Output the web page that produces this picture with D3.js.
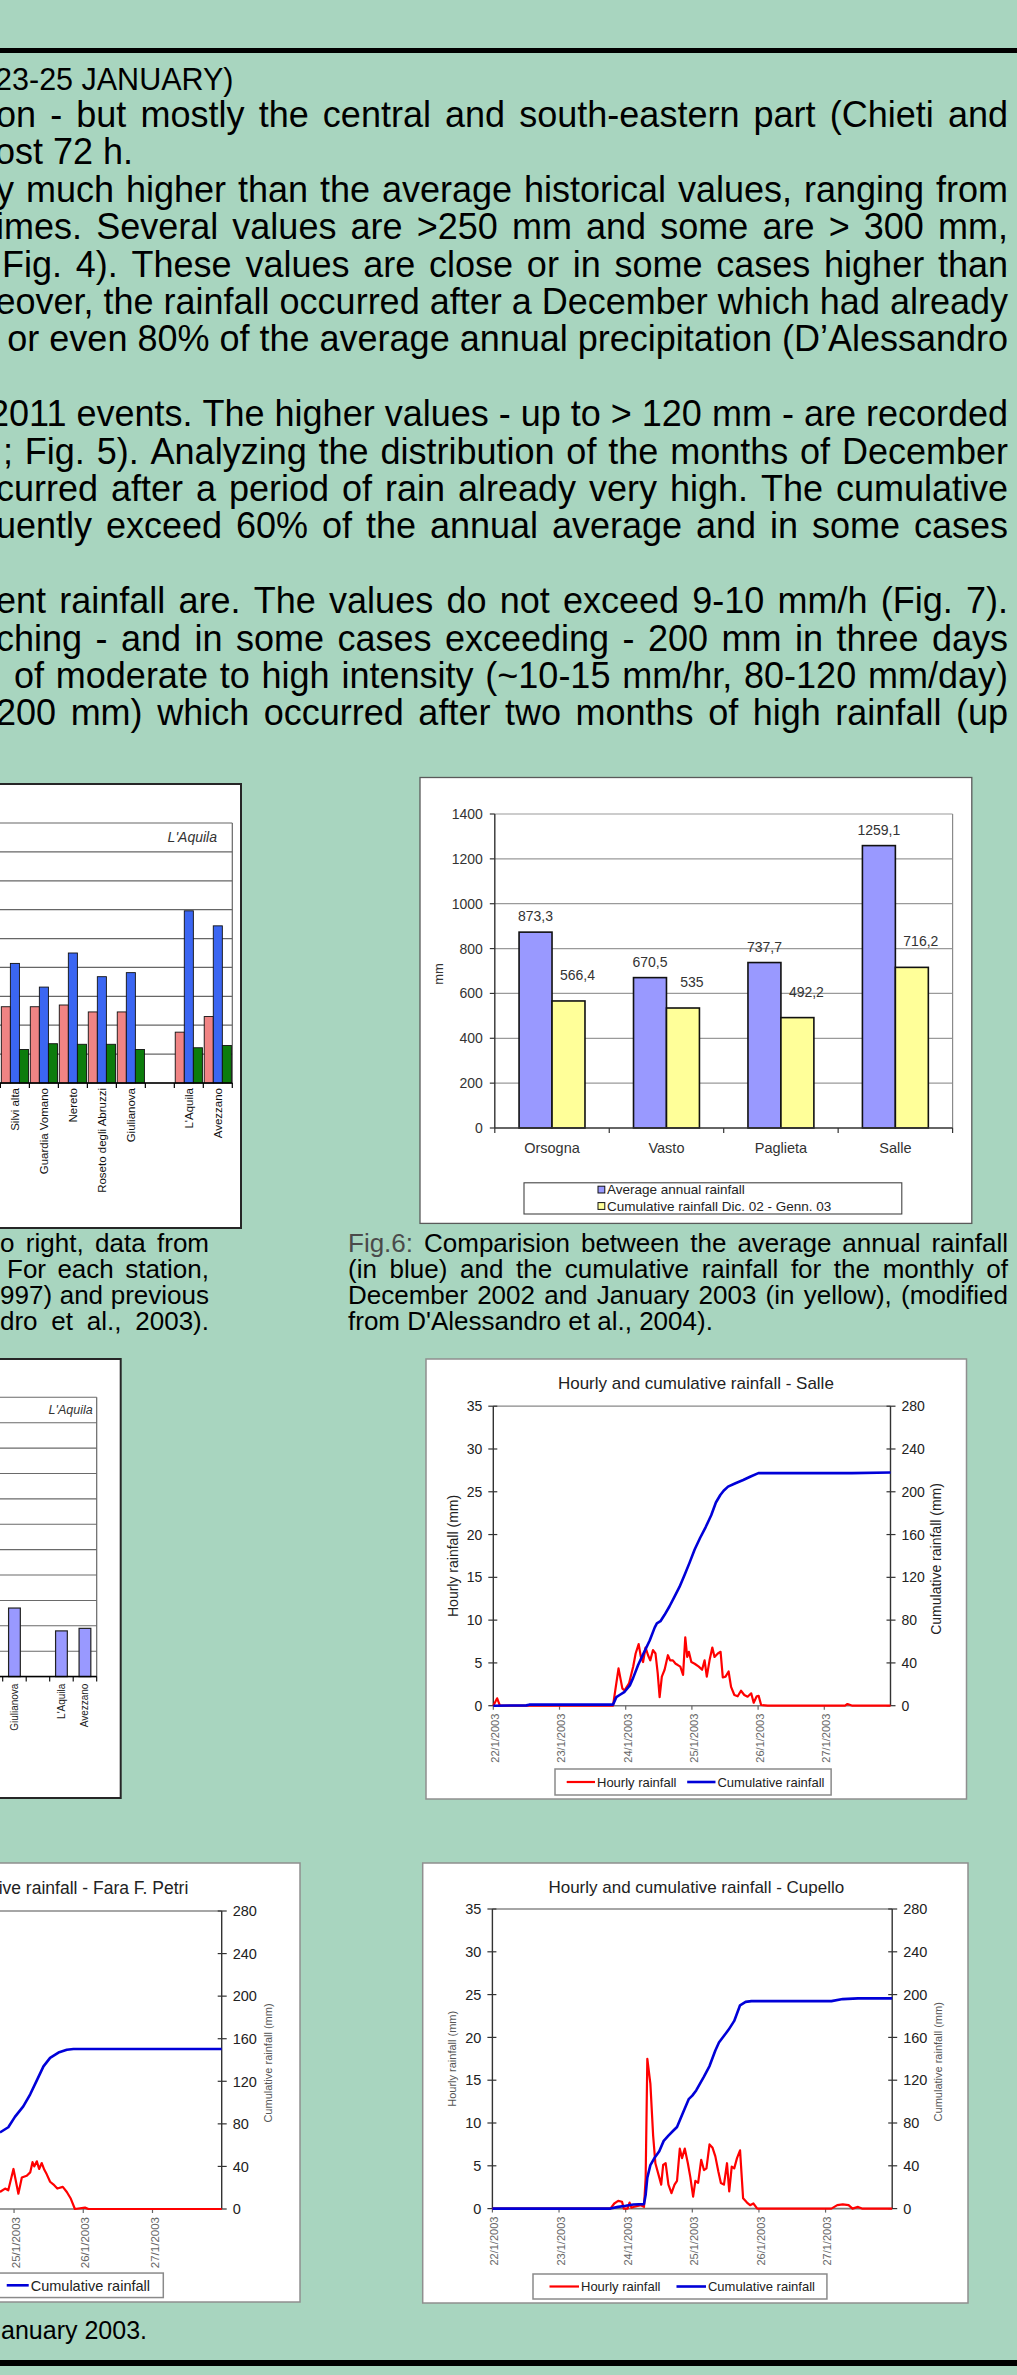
<!DOCTYPE html>
<html><head><meta charset="utf-8">
<script src="https://cdn.jsdelivr.net/npm/d3@7/dist/d3.min.js"></script>
<style>html,body{margin:0;padding:0;background:#a8d5bf;overflow:hidden}svg{display:block}</style>
</head><body>
<svg id="poster" width="1017" height="2375"></svg>
<script>
// ================= DATA =================
const bodyText = [
  "23-25 JANUARY)",
  "on - but mostly the central and south-eastern part (Chieti and",
  "ost 72 h.",
  "y much higher than the average historical values, ranging from",
  "imes. Several values are >250 mm and some are > 300 mm,",
  "Fig. 4). These values are close or in some cases higher than",
  "eover, the rainfall occurred after a December which had already",
  "% or even 80% of the average annual precipitation (D\u2019Alessandro",
  "",
  "2011 events. The higher values - up to > 120 mm - are recorded",
  "; Fig. 5). Analyzing the distribution of the months of December",
  "curred after a period of rain already very high. The cumulative",
  "uently exceed 60% of the annual average and in some cases",
  "",
  "ent rainfall are. The values do not exceed 9-10 mm/h (Fig. 7).",
  "ching - and in some cases exceeding - 200 mm in three days",
  "of moderate to high intensity (~10-15 mm/hr, 80-120 mm/day)",
  "200 mm) which occurred after two months of high rainfall (up"
];
const fig4CaptionText = ["o right, data from", "For each station,", "997) and previous", "dro et al., 2003)."];
const fig6CaptionText = [
  "Fig.6: Comparision between the average annual rainfall",
  "(in blue) and the cumulative rainfall for the monthly of",
  "December 2002 and January 2003 (in yellow), (modified",
  "from D'Alessandro et al., 2004)."
];
const fig7CaptionText = ["January 2003."];

// Fig 4 (partial view): stations, three series (mm)
const fig4Stations = ["Silvi alta", "Guardia Vomano", "Nereto", "Roseto degli Abruzzi", "Giulianova", " ", "L'Aquila", "Avezzano"];
const fig4AvgJanuary = [132, 132, 135, 123, 123, null, 88, 115];
const fig4January2003 = [207, 166, 225, 184, 191, null, 298, 272];
const fig4ThirdSeries = [58, 68, 67, 67, 58, null, 61, 65];
const fig4Ticks = [0, 50, 100, 150, 200, 250, 300, 350, 400, 450];
const fig4AreaLabel = "L'Aquila";

// Fig 5 (partial view)
const fig5Stations = ["Giulianova", " ", "L'Aquila", "Avezzano"];
const fig5Values = [54, null, 36, 38];
const fig5Ticks = [0, 20, 40, 60, 80, 100, 120, 140, 160, 180, 200, 220];
const fig5AreaLabel = "L'Aquila";

// Fig 6
const fig6Stations = ["Orsogna", "Vasto", "Paglieta", "Salle"];
const fig6Average = [873.3, 670.5, 737.7, 1259.1];
const fig6Cumulative = [566.4, 535, 492.2, 716.2];
const fig6Ticks = [0, 200, 400, 600, 800, 1000, 1200, 1400];
const fig6LegendLabels = ["Average annual rainfall", "Cumulative rainfall Dic. 02 - Genn. 03"];

// Fig 7: hourly / cumulative rainfall, x = hours since 22/1/2003 00:00
const hourlyTicks = [0, 5, 10, 15, 20, 25, 30, 35];
const cumulativeTicks = [0, 40, 80, 120, 160, 200, 240, 280];
const dateTickLabels = ["22/1/2003", "23/1/2003", "24/1/2003", "25/1/2003", "26/1/2003", "27/1/2003"];
const legendLabels = ["Hourly rainfall", "Cumulative rainfall"];

const salleHourly = [[0,0],[1.4,0.86],[2.4,0],[43.4,0],[45.4,4.36],[46.8,2.0],[47.6,1.8],[49.2,2.6],[50.7,4.56],[51.6,6.1],[52.7,7.2],[53.5,5.7],[54.3,5.1],[55.2,6.8],[56.1,5.9],[56.9,5.3],[57.9,6.5],[58.8,6.1],[59.6,3.8],[60.3,1.0],[61.1,3.4],[62.1,4.2],[63.3,5.9],[64.1,5.3],[65.1,5.3],[66.1,4.9],[66.9,4.75],[67.8,4.56],[68.8,3.6],[69.6,8.0],[70.3,5.7],[70.9,6.3],[71.8,5.1],[73.0,4.9],[74.5,4.56],[75.7,4.2],[76.6,5.3],[77.4,3.4],[78.4,5.3],[79.4,6.8],[80.2,5.7],[81.4,6.1],[82.4,6.3],[83.2,3.3],[84.2,3.4],[85.3,4.0],[86.2,2.2],[87.4,1.25],[88.6,1.1],[89.8,1.75],[91.0,1.25],[92.2,1.05],[93.5,1.45],[94.4,0.35],[95.5,1.1],[96.2,1.15],[97.1,0.08],[99.5,0],[127.5,0],[128.4,0.2],[130.2,0],[144,0]];
const salleCumulative = [[0,0],[12,0.3],[13,1],[43.4,1],[44.6,8],[45.8,10],[47.6,13],[49.5,19],[50.7,26],[52.5,38],[54.3,48],[56.7,61],[58.5,73],[59.3,77],[60.6,79],[62.1,85],[63.9,93],[65.7,102],[67.5,111],[69.3,122],[71.2,134],[73.0,146],[75.0,157],[77.0,167],[79.0,178],[80.7,190],[82.3,197],[83.5,201],[85.1,204.8],[87.8,208],[90.6,211],[93.3,214.3],[96.1,217.4],[130,217.4],[144,218]];

const cupelloHourly = [[0,0],[42.5,0],[43.9,0.6],[45.3,0.9],[46.7,0.8],[47.3,0],[48.7,0],[49.4,0.7],[50.1,0.1],[50.8,0.2],[53.5,0.4],[54.6,0.2],[55.2,3.6],[55.8,17.5],[56.9,14.6],[57.9,8.5],[58.7,5.3],[60.1,3.65],[60.8,2.8],[61.5,5.1],[62.4,5.3],[63.4,2.8],[64.5,1.8],[65.6,2.8],[66.5,3.25],[67.5,7.0],[68.3,5.9],[69.3,7.0],[70.4,5.3],[71.3,3.65],[72.3,1.4],[73.1,3.25],[74.1,3.0],[75.2,5.7],[76.2,4.5],[77.1,4.7],[78.2,7.5],[79.3,7.1],[80.3,6.1],[81.4,4.3],[82.3,3.0],[83.4,2.8],[84.5,5.3],[85.3,2.0],[86.2,4.9],[87.1,4.7],[88.1,5.9],[89.2,6.8],[90.3,1.2],[91.7,0.7],[92.8,0.4],[94.0,0.6],[95.4,0],[122.1,0],[124.2,0.4],[126.2,0.5],[128.3,0.4],[129.7,0],[131.7,0.2],[133.1,0],[144,0]];
const cupelloCumulative = [[0,0],[42.5,0],[45.3,1.6],[48.0,2.6],[50.8,3.9],[54.6,4.2],[55.2,13],[55.8,29],[56.9,40.6],[58.3,47],[60.1,53.6],[61.7,63.3],[63.4,68.2],[65.2,73],[66.5,76.3],[68.6,89.3],[70.7,102.3],[72.0,105.6],[73.4,110.4],[76.2,123.4],[78.2,133.2],[80.3,147.8],[81.6,155.2],[83.7,162.4],[85.1,167.3],[87.1,175.4],[89.2,190],[91.2,193.2],[93.3,193.9],[122.1,193.9],[126.2,195.8],[131.7,196.5],[144,196.5]];

const faraHourly = [[67.1,2.0],[68.9,2.4],[70.0,2.2],[71.8,4.7],[73.5,1.8],[74.7,3.7],[76.4,3.9],[77.6,4.3],[78.4,5.5],[79.0,5.0],[79.9,5.6],[80.7,4.7],[81.6,5.4],[82.5,4.6],[83.3,4.1],[84.5,3.2],[85.6,2.9],[87.0,2.4],[88.9,2.6],[90.3,2.0],[91.7,1.2],[93.1,0],[96.6,0.16],[97.8,0],[144,0]];
const faraCumulative = [[67.1,71.9],[70.0,76.8],[72.3,86.6],[75.2,96.4],[77.6,107.8],[79.9,120.9],[82.2,134],[84.5,142],[87.4,147],[90.3,149.6],[92.6,150.3],[144,150.3]];

// ================= DRAWING =================
const W = 1017, H = 2375;
const FONT = "'Liberation Sans', Arial, Helvetica, sans-serif";
const svg = d3.select("#poster").attr("font-family", FONT);

svg.append("rect").attr("width", W).attr("height", H).attr("fill", "#a8d5bf");
svg.append("rect").attr("x", 0).attr("y", 48).attr("width", W).attr("height", 5).attr("fill", "#000");
svg.append("rect").attr("x", 0).attr("y", 2360).attr("width", W).attr("height", 6).attr("fill", "#000");

const measurer = svg.append("text").attr("visibility", "hidden");
function tw(str, size) {
  measurer.attr("font-size", size).text(str);
  return measurer.node().getComputedTextLength();
}
function textLine(parent, str, o) {
  const words = str.split(" ").filter(w => w.length);
  const size = o.size;
  const widths = words.map(w => tw(w, size));
  const sp = tw("a a", size) - tw("aa", size);
  const sumW = d3.sum(widths);
  const natural = sumW + sp * (words.length - 1);
  let start, gap = sp;
  if (o.mode === "j" && words.length > 1) {
    if (natural > o.x1 - o.x0) start = o.x1 - natural;
    else { start = o.x0; gap = (o.x1 - o.x0 - sumW) / (words.length - 1); }
  } else if (o.mode === "end") start = o.x1 - natural;
  else start = o.x0;
  const t = parent.append("text").attr("y", o.y).attr("font-size", size).attr("fill", o.fill || "#000");
  let x = start;
  words.forEach((w, i) => {
    const ts = t.append("tspan").attr("x", x).text(w + (i < words.length - 1 ? " " : ""));
    if (i === 0 && o.firstFill) ts.attr("fill", o.firstFill);
    x += widths[i] + gap;
  });
}

// ---- body text ----
const bodyLayout = [
  {mode: "end", x1: 233.5, size: 30.5},
  {mode: "j", x0: -4}, {mode: "end", x1: 133}, {mode: "j", x0: -4}, {mode: "j", x0: -4},
  {mode: "j", x0: 2}, {mode: "j", x0: -4}, {mode: "j", x0: -4}, null,
  {mode: "j", x0: -4}, {mode: "j", x0: 3}, {mode: "j", x0: -4}, {mode: "j", x0: -4}, null,
  {mode: "j", x0: -4}, {mode: "j", x0: -4}, {mode: "j", x0: 14}, {mode: "j", x0: -4}
];
const bodyG = svg.append("g");
bodyText.forEach((s, i) => {
  const L = bodyLayout[i];
  if (!L || !s) return;
  textLine(bodyG, s, {mode: L.mode, x0: L.x0, x1: L.x1 || 1008, y: 89.5 + 37.4 * i, size: L.size || 36});
});

// ---- Fig 4 (partial) ----
(function () {
  const g = svg.append("g");
  g.append("rect").attr("x", -10).attr("y", 784).attr("width", 251).attr("height", 444)
    .attr("fill", "#fff").attr("stroke", "#262626").attr("stroke-width", 2);
  const f = {l: -10, r: 232.3, t: 823, b: 1083};
  const y = d3.scaleLinear().domain([0, d3.max(fig4Ticks)]).range([f.b, f.t]);
  const x = d3.scaleBand().domain(fig4Stations).range([0.4, f.r]);
  const s = d3.scaleBand().domain(["avg", "jan", "third"]).range([0, x.bandwidth()]).paddingOuter(0.1);
  fig4Ticks.forEach(v => g.append("line").attr("x1", f.l).attr("x2", f.r).attr("y1", y(v)).attr("y2", y(v))
    .attr("stroke", "#666").attr("stroke-width", 1.2));
  g.append("line").attr("x1", f.r).attr("x2", f.r).attr("y1", f.t).attr("y2", f.b).attr("stroke", "#666").attr("stroke-width", 1.2);
  const series = [[fig4AvgJanuary, "#f08484", "avg"], [fig4January2003, "#3b66f2", "jan"], [fig4ThirdSeries, "#0c7c0c", "third"]];
  series.forEach(([vals, col, key]) => {
    fig4Stations.forEach((st, i) => {
      const v = vals[i];
      if (v == null) return;
      g.append("rect").attr("x", x(st) + s(key)).attr("y", y(v)).attr("width", s.bandwidth()).attr("height", f.b - y(v))
        .attr("fill", col).attr("stroke", "#111").attr("stroke-width", 0.9);
    });
  });
  g.append("line").attr("x1", f.l).attr("x2", f.r).attr("y1", f.b).attr("y2", f.b).attr("stroke", "#000").attr("stroke-width", 1.6);
  d3.range(fig4Stations.length + 1).forEach(i => {
    const xx = x.range()[0] + i * x.step();
    g.append("line").attr("x1", xx).attr("x2", xx).attr("y1", f.b).attr("y2", f.b + 5).attr("stroke", "#000").attr("stroke-width", 1.2);
  });
  fig4Stations.forEach((st, i) => {
    if (fig4January2003[i] == null) return;
    g.append("text").attr("transform", `translate(${x(st) + x.bandwidth() / 2},${f.b + 5}) rotate(-90)`)
      .attr("dy", "0.35em").attr("text-anchor", "end").attr("font-size", 11.5).attr("fill", "#111").text(st);
  });
  g.append("text").attr("x", 217).attr("y", 842).attr("text-anchor", "end").attr("font-style", "italic")
    .attr("font-size", 14).attr("fill", "#333").text(fig4AreaLabel);
})();

// ---- Fig 4 caption ----
const capG = svg.append("g");
fig4CaptionText.forEach((s, i) => {
  textLine(capG, s, {mode: "j", x0: i === 1 ? 7 : 0, x1: 209, y: 1251.5 + 26.2 * i, size: 26});
});

// ---- Fig 6 ----
(function () {
  const g = svg.append("g");
  g.append("rect").attr("x", 420).attr("y", 777.5).attr("width", 551.8).attr("height", 445.9)
    .attr("fill", "#fff").attr("stroke", "#5a5a5a").attr("stroke-width", 1.3);
  const f = {l: 494.8, r: 952.6, t: 814, b: 1128};
  const y = d3.scaleLinear().domain([0, d3.max(fig6Ticks)]).range([f.b, f.t]);
  const x = d3.scaleBand().domain(fig6Stations).range([f.l, f.r]).paddingInner(0.424).paddingOuter(0.212);
  const s = d3.scaleBand().domain(["avg", "cum"]).range([0, x.bandwidth()]);
  fig6Ticks.forEach(v => {
    if (v > 0) g.append("line").attr("x1", f.l).attr("x2", f.r).attr("y1", y(v)).attr("y2", y(v)).attr("stroke", "#9a9a9a").attr("stroke-width", 1.2);
    g.append("line").attr("x1", f.l - 5).attr("x2", f.l).attr("y1", y(v)).attr("y2", y(v)).attr("stroke", "#333").attr("stroke-width", 1.2);
    g.append("text").attr("x", f.l - 12).attr("y", y(v)).attr("dy", "0.36em").attr("text-anchor", "end")
      .attr("font-size", 14).attr("fill", "#333").text(v);
  });
  g.append("line").attr("x1", f.r).attr("x2", f.r).attr("y1", f.t).attr("y2", f.b).attr("stroke", "#8a8a8a").attr("stroke-width", 1.2);
  g.append("line").attr("x1", f.l).attr("x2", f.l).attr("y1", f.t).attr("y2", f.b).attr("stroke", "#333").attr("stroke-width", 1.4);
  const fmt = v => String(v).replace(".", ",");
  fig6Stations.forEach((st, i) => {
    const xa = x(st) + s("avg"), xc = x(st) + s("cum"), bw = s.bandwidth();
    g.append("rect").attr("x", xa).attr("y", y(fig6Average[i])).attr("width", bw).attr("height", f.b - y(fig6Average[i]))
      .attr("fill", "#9999ff").attr("stroke", "#111").attr("stroke-width", 1.6);
    g.append("rect").attr("x", xc).attr("y", y(fig6Cumulative[i])).attr("width", bw).attr("height", f.b - y(fig6Cumulative[i]))
      .attr("fill", "#ffff99").attr("stroke", "#111").attr("stroke-width", 1.6);
    g.append("text").attr("x", xa + bw / 2).attr("y", y(fig6Average[i]) - 11).attr("text-anchor", "middle")
      .attr("font-size", 14).attr("fill", "#333").text(fmt(fig6Average[i]));
    g.append("text").attr("x", xc + bw / 2 + 9).attr("y", y(fig6Cumulative[i]) - 21).attr("text-anchor", "middle")
      .attr("font-size", 14).attr("fill", "#333").text(fmt(fig6Cumulative[i]));
    g.append("text").attr("x", x(st) + x.bandwidth() / 2).attr("y", 1152.5).attr("text-anchor", "middle")
      .attr("font-size", 14.5).attr("fill", "#333").text(st);
  });
  g.append("line").attr("x1", f.l).attr("x2", f.r).attr("y1", f.b).attr("y2", f.b).attr("stroke", "#333").attr("stroke-width", 1.5);
  d3.range(fig6Stations.length + 1).forEach(i => {
    const xx = f.l + i * x.step();
    g.append("line").attr("x1", xx).attr("x2", xx).attr("y1", f.b).attr("y2", f.b + 5).attr("stroke", "#333").attr("stroke-width", 1.2);
  });
  g.append("text").attr("transform", "translate(438,974) rotate(-90)").attr("dy", "0.35em").attr("text-anchor", "middle")
    .attr("font-size", 13).attr("fill", "#333").text("mm");
  // legend
  g.append("rect").attr("x", 524).attr("y", 1182.8).attr("width", 377.8).attr("height", 31.2)
    .attr("fill", "#fff").attr("stroke", "#444").attr("stroke-width", 1.1);
  [["#9999ff", 1189.6], ["#ffff99", 1206]].forEach(([c, yy], i) => {
    g.append("rect").attr("x", 598).attr("y", yy - 3.4).attr("width", 6.8).attr("height", 6.8)
      .attr("fill", c).attr("stroke", "#111").attr("stroke-width", 1);
    g.append("text").attr("x", 607).attr("y", yy).attr("dy", "0.36em").attr("font-size", 13.5).attr("fill", "#222").text(fig6LegendLabels[i]);
  });
})();

// ---- Fig 6 caption ----
fig6CaptionText.forEach((s, i) => {
  textLine(capG, s, {mode: i < 3 ? "j" : "start", x0: 348, x1: 1008, y: 1251.5 + 26.2 * i, size: 26,
    firstFill: i === 0 ? "#4a4a4a" : null});
});

// ---- Fig 5 (partial) ----
(function () {
  const g = svg.append("g");
  g.append("rect").attr("x", -10).attr("y", 1359).attr("width", 130.7).attr("height", 439)
    .attr("fill", "#fff").attr("stroke", "#262626").attr("stroke-width", 2);
  const f = {l: -10, r: 96.7, t: 1397.3, b: 1676.6};
  const y = d3.scaleLinear().domain([0, d3.max(fig5Ticks)]).range([f.b, f.t]);
  const x = d3.scaleBand().domain(fig5Stations).range([2.7, f.r]).paddingInner(0.5).paddingOuter(0.25);
  fig5Ticks.forEach(v => g.append("line").attr("x1", f.l).attr("x2", f.r).attr("y1", y(v)).attr("y2", y(v))
    .attr("stroke", "#6a6a6a").attr("stroke-width", 1.1));
  g.append("line").attr("x1", f.r).attr("x2", f.r).attr("y1", f.t).attr("y2", f.b).attr("stroke", "#666").attr("stroke-width", 1.2);
  fig5Stations.forEach((st, i) => {
    const v = fig5Values[i];
    if (v == null) return;
    g.append("rect").attr("x", x(st)).attr("y", y(v)).attr("width", x.bandwidth()).attr("height", f.b - y(v))
      .attr("fill", "#9999ff").attr("stroke", "#222").attr("stroke-width", 1.2);
    g.append("text").attr("transform", `translate(${x(st) + x.bandwidth() / 2},${f.b + 7}) rotate(-90)`)
      .attr("dy", "0.35em").attr("text-anchor", "end").attr("font-size", 10).attr("fill", "#222").text(st);
  });
  g.append("line").attr("x1", f.l).attr("x2", f.r).attr("y1", f.b).attr("y2", f.b).attr("stroke", "#000").attr("stroke-width", 1.5);
  d3.range(fig5Stations.length + 1).forEach(i => {
    const xx = 2.7 + i * x.step();
    g.append("line").attr("x1", xx).attr("x2", xx).attr("y1", f.b).attr("y2", f.b + 5).attr("stroke", "#000").attr("stroke-width", 1.1);
  });
  g.append("text").attr("x", 92.7).attr("y", 1414).attr("text-anchor", "end").attr("font-style", "italic")
    .attr("font-size", 12.5).attr("fill", "#333").text(fig5AreaLabel);
})();

// ---- Fig 7 hourly / cumulative charts ----
function rainChart(c, title, hourly, cumulative) {
  const g = svg.append("g");
  g.append("rect").attr("x", c.box[0]).attr("y", c.box[1]).attr("width", c.box[2] - c.box[0]).attr("height", c.box[3] - c.box[1])
    .attr("fill", "#fff").attr("stroke", "#8f8f8f").attr("stroke-width", 1.5);
  const x = d3.scaleLinear().domain([0, (dateTickLabels.length) * 24]).range([c.l, c.r]);
  const yL = d3.scaleLinear().domain([0, d3.max(hourlyTicks)]).range([c.b, c.t]);
  const yR = d3.scaleLinear().domain([0, d3.max(cumulativeTicks)]).range([c.b, c.t]);
  g.append("line").attr("x1", c.l).attr("x2", c.r).attr("y1", c.t).attr("y2", c.t).attr("stroke", "#888").attr("stroke-width", 1.3);
  g.append("line").attr("x1", c.l).attr("x2", c.r).attr("y1", c.b).attr("y2", c.b).attr("stroke", "#7a7a7a").attr("stroke-width", 1.6);
  [c.l, c.r].forEach(xx => g.append("line").attr("x1", xx).attr("x2", xx).attr("y1", c.t).attr("y2", c.b)
    .attr("stroke", "#333").attr("stroke-width", 1.4));
  hourlyTicks.forEach(v => {
    g.append("line").attr("x1", c.l - 5).attr("x2", c.l + 4).attr("y1", yL(v)).attr("y2", yL(v)).attr("stroke", "#333").attr("stroke-width", 1.2);
    g.append("text").attr("x", c.l - 11).attr("y", yL(v)).attr("dy", "0.36em").attr("text-anchor", "end")
      .attr("font-size", c.tick).attr("fill", "#222").text(v);
  });
  cumulativeTicks.forEach(v => {
    g.append("line").attr("x1", c.r - 4).attr("x2", c.r + 5).attr("y1", yR(v)).attr("y2", yR(v)).attr("stroke", "#333").attr("stroke-width", 1.2);
    g.append("text").attr("x", c.r + 11).attr("y", yR(v)).attr("dy", "0.36em").attr("text-anchor", "start")
      .attr("font-size", c.tick).attr("fill", "#222").text(v);
  });
  dateTickLabels.forEach((lab, i) => {
    const xx = x(i * 24);
    g.append("line").attr("x1", xx).attr("x2", xx).attr("y1", c.b).attr("y2", c.b + 4).attr("stroke", "#666").attr("stroke-width", 1.2);
    g.append("text").attr("transform", `translate(${xx + 2},${c.b + 8}) rotate(-90)`).attr("dy", "0.35em")
      .attr("text-anchor", "end").attr("font-size", c.dateSize).attr("fill", "#666").text(lab);
  });
  g.append("path").datum(hourly).attr("d", d3.line().x(d => x(d[0])).y(d => yL(d[1])))
    .attr("fill", "none").attr("stroke", "#ff0000").attr("stroke-width", 2.2).attr("stroke-linejoin", "round");
  g.append("path").datum(cumulative).attr("d", d3.line().x(d => x(d[0])).y(d => yR(d[1])))
    .attr("fill", "none").attr("stroke", "#0000d8").attr("stroke-width", 2.6).attr("stroke-linejoin", "round");
  g.append("text").attr("x", (c.l + c.r) / 2 + 4).attr("y", c.titleY).attr("text-anchor", "middle")
    .attr("font-size", c.titleSize).attr("fill", "#222").text(title);
  g.append("text").attr("transform", `translate(${c.l - 40},${(c.t + c.b) / 2}) rotate(-90)`).attr("dy", "0.35em")
    .attr("text-anchor", "middle").attr("font-size", c.axisTitle).attr("fill", c.axisFill).text("Hourly rainfall (mm)");
  g.append("text").attr("transform", `translate(${c.r + 46},${(c.t + c.b) / 2 + 3}) rotate(-90)`).attr("dy", "0.35em")
    .attr("text-anchor", "middle").attr("font-size", c.axisTitle).attr("fill", c.axisFill).text("Cumulative rainfall (mm)");
  // legend
  const lg = c.legend;
  const w1 = tw(legendLabels[0], lg.size), w2 = tw(legendLabels[1], lg.size);
  const width = lg.pad + lg.len + 2 + w1 + lg.gap + lg.len + 2 + w2 + lg.padR;
  const lx = lg.right != null ? lg.right - width : lg.x;
  g.append("rect").attr("x", lx).attr("y", lg.yc - lg.h / 2).attr("width", width).attr("height", lg.h)
    .attr("fill", "#fff").attr("stroke", "#8a8a8a").attr("stroke-width", 1.5);
  let cx = lx + lg.pad;
  [["#ff0000", w1, 2.2], ["#0000d8", w2, 2.6]].forEach(([col, ww, sw], i) => {
    g.append("line").attr("x1", cx).attr("x2", cx + lg.len).attr("y1", lg.yc).attr("y2", lg.yc).attr("stroke", col).attr("stroke-width", sw);
    g.append("text").attr("x", cx + lg.len + 2).attr("y", lg.yc).attr("dy", "0.36em").attr("font-size", lg.size)
      .attr("fill", "#222").text(legendLabels[i]);
    cx += lg.len + 2 + ww + lg.gap;
  });
}

rainChart({l: 493.3, r: 890.5, t: 1406.2, b: 1705.7, box: [426, 1359, 966.5, 1799], titleY: 1388.6, titleSize: 17,
  tick: 14, dateSize: 11, axisTitle: 14, axisFill: "#222",
  legend: {x: 555, yc: 1782, h: 26, pad: 11.7, len: 28.3, gap: 10.7, padR: 6.7, size: 13}},
  "Hourly and cumulative rainfall - Salle", salleHourly, salleCumulative);

rainChart({l: 492.4, r: 892.2, t: 1909, b: 2208.6, box: [422.7, 1863, 968, 2303], titleY: 1893, titleSize: 17,
  tick: 14.5, dateSize: 11, axisTitle: 11, axisFill: "#555",
  legend: {x: 533, yc: 2286.5, h: 25, pad: 16.5, len: 29.5, gap: 16, padR: 12, size: 13}},
  "Hourly and cumulative rainfall - Cupello", cupelloHourly, cupelloCumulative);

rainChart({l: -193.6, r: 221.7, t: 1911, b: 2209, box: [-130, 1863, 300, 2302], titleY: 1894.3, titleSize: 17.5,
  tick: 14.5, dateSize: 11.5, axisTitle: 11, axisFill: "#555",
  legend: {right: 163.3, yc: 2285.3, h: 24.5, pad: 16.5, len: 22, gap: 16, padR: 13.3, size: 14.5}},
  "Hourly and cumulative rainfall - Fara F. Petri", faraHourly, faraCumulative);

// ---- Fig 7 caption ----
textLine(capG, fig7CaptionText[0], {mode: "end", x1: 147, y: 2339, size: 25});

measurer.remove();
</script>
</body></html>
